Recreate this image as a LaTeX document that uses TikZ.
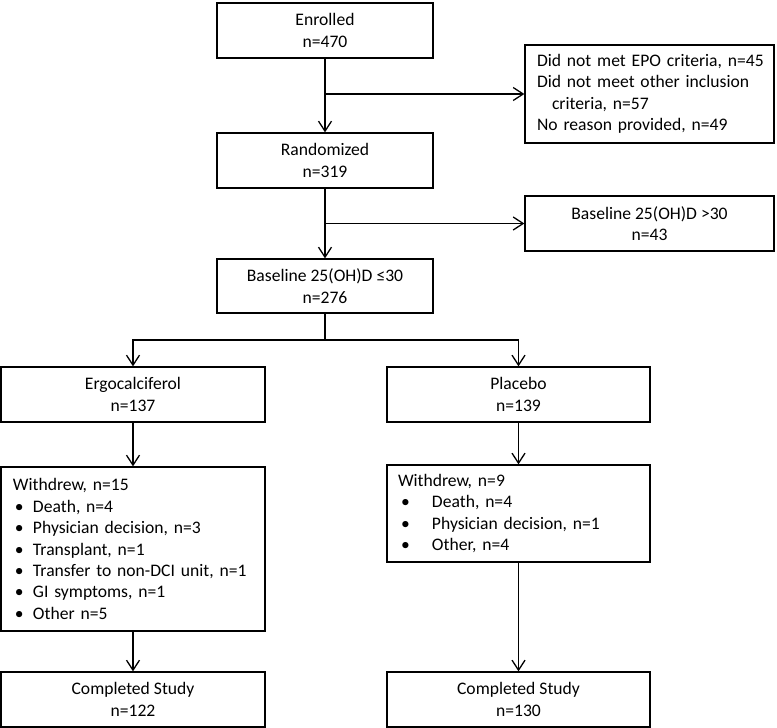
\documentclass[tikz,border=0pt]{standalone}
\usepackage{fontspec}
\setmainfont{Carlito}
\usetikzlibrary{arrows.meta}
\begin{document}
\begin{tikzpicture}[x=1bp,y=-1bp,
  box/.style={draw, line width=1.3bp, rectangle, inner sep=0pt, align=center,
    font=\fontsize{17.6bp}{21.4bp}\selectfont},
  listbox/.style={box, align=left, inner xsep=12bp},
  arr/.style={-{Straight Barb[length=10bp,width=13bp,line width=1.3bp]}, line width=1.3bp},
  line/.style={line width=1.3bp}]
\useasboundingbox (0,0) rectangle (777,728);
\node[box, minimum width=216bp, minimum height=55bp] (enr) at (325,30.5) {Enrolled\\n=470};
\node[box, minimum width=216bp, minimum height=55bp] (rand) at (325,160.5) {Randomized\\n=319};
\node[box, minimum width=216bp, minimum height=54bp] (base) at (325,286) {Baseline 25(OH)D ≤30\\n=276};
\node[listbox, text width=225bp, minimum height=98bp] (excl1) at (649.5,94)
  {\makebox[225bp][l]{Did not met EPO criteria, n=45}\\Did not meet other inclusion\\\hspace*{15bp}criteria, n=57\\No reason provided, n=49};
\node[box, minimum width=249bp, minimum height=55bp] (excl2) at (649.5,223.5) {Baseline 25(OH)D >30\\n=43};
\node[box, minimum width=264bp, minimum height=55bp] (ergo) at (133,394.5) {Ergocalciferol\\n=137};
\node[box, minimum width=263bp, minimum height=55bp] (plac) at (518.5,394.5) {Placebo\\n=139};
\node[listbox, text width=240bp, minimum height=164bp] (wd1) at (133,549)
  {Withdrew, n=15\\
   \hspace*{2bp}\makebox[18bp][l]{•}Death, n=4\\
   \hspace*{2bp}\makebox[18bp][l]{•}Physician decision, n=3\\
   \hspace*{2bp}\makebox[18bp][l]{•}Transplant, n=1\\
   \hspace*{2bp}\makebox[18bp][l]{•}Transfer to non-DCI unit, n=1\\
   \hspace*{2bp}\makebox[18bp][l]{•}GI symptoms, n=1\\
   \hspace*{2bp}\makebox[18bp][l]{•}Other n=5};
\node[listbox, inner xsep=11bp, text width=241bp, minimum height=97bp] (wd2) at (518.5,513.5)
  {Withdrew, n=9\\
   \hspace*{3bp}\makebox[31bp][l]{•}Death, n=4\\
   \hspace*{3bp}\makebox[31bp][l]{•}Physician decision, n=1\\
   \hspace*{3bp}\makebox[31bp][l]{•}Other, n=4};
\node[box, minimum width=264bp, minimum height=55bp] (comp1) at (133,699.5) {Completed Study\\n=122};
\node[box, minimum width=263bp, minimum height=55bp] (comp2) at (518.5,699.5) {Completed Study\\n=130};
\coordinate (split) at (325,340);
\draw[arr] (enr.south) -- (rand.north);
\draw[arr] (enr.south |- excl1.west) -- (excl1.west);
\draw[arr] (rand.south) -- (base.north);
\draw[arr] (rand.south |- excl2.west) -- (excl2.west);
\draw[line] (base.south) -- (split);
\draw[arr] (split) -| (ergo.north);
\draw[arr] (split) -| (plac.north);
\draw[arr] (ergo.south) -- (wd1.north);
\draw[arr] (plac.south) -- (wd2.north);
\draw[arr] (wd1.south) -- (comp1.north);
\draw[arr] (wd2.south) -- (comp2.north);
\end{tikzpicture}
\end{document}
